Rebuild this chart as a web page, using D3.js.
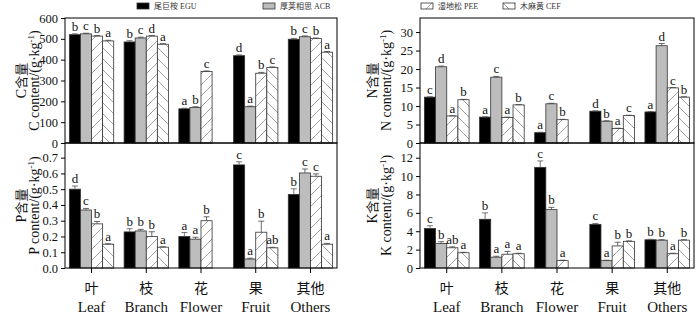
<!DOCTYPE html>
<html>
<head>
<meta charset="utf-8">
<script src="https://cdn.jsdelivr.net/npm/d3@7"></script>
<style>
  body { margin: 0; background: #fff; }
  svg { display: block; }
  text { font-family: "Liberation Serif", "Times New Roman", "DejaVu Serif", serif; fill: #111; }
  .zh { font-family: "Noto Sans CJK SC", sans-serif; }
</style>
</head>
<body>
<div class="chart"></div>
<script>
const categories = ['Leaf', 'Branch', 'Flower', 'Fruit', 'Others']
const categoriesZh = ['叶', '枝', '花', '果', '其他']
const species = ['EGU', 'ACB', 'PEE', 'CEF']
const speciesZh = ['尾巨桉', '厚荚相思', '湿地松', '木麻黄']

// C content, g/kg  (flower has no CEF)
const cEGU = [520, 485, 164, 419, 498]
const cACB = [524, 504, 171, 174, 510]
const cPEE = [513, 513, 343, 335, 501]
const cCEF = [490, 474, null, 362, 436]
const cErr = [[4, 6, 3, 4, 4], [3, 4, 3, 3, 4], [3, 3, 3, 4, 3], [3, 3, null, 3, 3]]
const cSig = [['b', 'b', 'a', 'd', 'b'], ['c', 'c', 'b', 'a', 'c'], ['b', 'd', 'c', 'b', 'b'], ['a', 'a', '', 'c', 'a']]

// N content
const nEGU = [12.4, 7.0, 2.8, 8.6, 8.4]
const nACB = [20.6, 17.8, 10.6, 5.9, 26.3]
const nPEE = [7.3, 6.9, 6.3, 3.9, 14.9]
const nCEF = [11.7, 10.3, null, 7.4, 12.4]
const nErr = [[0.1, 0.1, 0.1, 0.1, 0.1], [0.2, 0.2, 0.15, 0.1, 0.6], [0.1, 0.1, 0.1, 0.1, 0.1], [0.1, 0.1, null, 0.1, 0.1]]
const nSig = [['c', 'a', 'a', 'd', 'a'], ['d', 'c', 'c', 'b', 'd'], ['a', 'a', 'b', 'a', 'c'], ['b', 'b', '', 'c', 'b']]

// P content
const pEGU = [0.50, 0.229, 0.20, 0.654, 0.467]
const pACB = [0.368, 0.235, 0.183, 0.057, 0.603]
const pPEE = [0.28, 0.20, 0.30, 0.227, 0.582]
const pCEF = [0.151, 0.132, null, 0.128, 0.151]
const pErr = [[0.02, 0.02, 0.025, 0.02, 0.035], [0.01, 0.01, 0.012, 0.005, 0.025], [0.015, 0.03, 0.025, 0.07, 0.015], [0.003, 0.003, null, 0.003, 0.005]]
const pSig = [['d', 'b', 'a', 'c', 'b'], ['c', 'b', 'a', 'a', 'c'], ['b', 'b', 'b', 'b', 'c'], ['a', 'a', '', 'ab', 'a']]

// K content
const kEGU = [4.3, 5.3, 10.95, 4.75, 3.07]
const kACB = [2.66, 1.18, 6.35, 0.8, 3.03]
const kPEE = [2.2, 1.5, 0.8, 2.4, 1.55]
const kCEF = [1.66, 1.55, null, 2.9, 3.03]
const kErr = [[0.3, 0.7, 0.7, 0.1, 0.05], [0.2, 0.1, 0.25, 0.05, 0.05], [0.1, 0.3, 0.05, 0.4, 0.05], [0.05, 0.05, null, 0.05, 0.05]]
const kSig = [['c', 'b', 'c', 'c', 'b'], ['b', 'a', 'b', 'a', 'b'], ['ab', 'a', 'a', 'b', 'a'], ['a', 'a', '', 'b', 'b']]

const width = 700, height = 318
const serif = '"Liberation Serif", "Times New Roman", serif'

const svg = d3.select('.chart').append('svg')
  .attr('width', width)
  .attr('height', height)

// hatch patterns
const defs = svg.append('defs')
const hatch = (id, dir) => {
  const p = defs.append('pattern')
    .attr('id', id)
    .attr('patternUnits', 'userSpaceOnUse')
    .attr('width', 11).attr('height', 11)
  p.append('rect').attr('width', 11).attr('height', 11).attr('fill', '#fff')
  const d = dir > 0 ? 'M-1,12 L12,-1 M-6,6 L6,-6 M5,17 L17,5' : 'M-1,-1 L12,12 M-6,5 L6,17 M5,-6 L17,6'
  p.append('path').attr('d', d).attr('stroke', '#8a8a8a').attr('stroke-width', 0.8)
}
hatch('hatchPEE', 1)
hatch('hatchCEF', -1)

const fills = ['#000', '#bdbdbd', 'url(#hatchPEE)', 'url(#hatchCEF)']

const panels = [
  { x0: 65, x1: 337, y0: 18, y1: 143, max: 600, ticks: d3.range(0, 601, 100), fmt: d3.format('d'),
    el: 'C', series: [cEGU, cACB, cPEE, cCEF], err: cErr, sig: cSig, labX: [21, 34] },
  { x0: 420, x1: 694, y0: 18, y1: 143, max: 33.8, ticks: d3.range(0, 31, 5), fmt: d3.format('d'),
    el: 'N', series: [nEGU, nACB, nPEE, nCEF], err: nErr, sig: nSig, labX: [372, 386] },
  { x0: 65, x1: 337, y0: 143, y1: 268, max: 0.793, ticks: d3.range(0, 0.71, 0.1), fmt: d3.format('.1f'),
    el: 'P', series: [pEGU, pACB, pPEE, pCEF], err: pErr, sig: pSig, labX: [21, 34], bottom: true },
  { x0: 420, x1: 694, y0: 143, y1: 268, max: 13.6, ticks: d3.range(0, 13, 2), fmt: d3.format('d'),
    el: 'K', series: [kEGU, kACB, kPEE, kCEF], err: kErr, sig: kSig, labX: [372, 386], bottom: true }
]

panels.forEach(pn => {
  const g = svg.append('g')

  const x = d3.scaleBand()
    .domain(categories)
    .range([pn.x0, pn.x1])
    .paddingInner(0.19)
    .paddingOuter(0.08)

  const xs = d3.scaleBand()
    .domain(species)
    .range([0, x.bandwidth()])

  const y = d3.scaleLinear()
    .domain([0, pn.max])
    .range([pn.y1, pn.y0])

  // bars
  pn.series.forEach((vals, si) => {
    vals.forEach((v, ci) => {
      if (v == null) return
      const bx = x(categories[ci]) + xs(species[si])
      const e = pn.err[si][ci] || 0

      g.append('rect')
        .attr('x', bx)
        .attr('y', y(v))
        .attr('width', xs.bandwidth())
        .attr('height', y(0) - y(v))
        .attr('fill', fills[si])
        .attr('stroke', '#333')
        .attr('stroke-width', 0.8)

      // error bar
      const cx = bx + xs.bandwidth() / 2
      g.append('path')
        .attr('d', `M${cx},${y(v)} V${y(v + e)} M${cx - 3},${y(v + e)} H${cx + 3}`)
        .attr('stroke', si === 0 ? '#555' : '#444')
        .attr('stroke-width', 0.8)
        .attr('fill', 'none')

      g.append('text')
        .attr('x', cx)
        .attr('y', y(v + e) - 3)
        .attr('text-anchor', 'middle')
        .attr('font-size', 13)
        .attr('font-family', serif)
        .text(pn.sig[si][ci])
    })
  })

  // frame
  g.append('rect')
    .attr('x', pn.x0).attr('y', pn.y0)
    .attr('width', pn.x1 - pn.x0).attr('height', pn.y1 - pn.y0)
    .attr('fill', 'none').attr('stroke', '#000').attr('stroke-width', 1)

  // y axis
  const yAxis = g.append('g')
    .attr('transform', `translate(${pn.x0},0)`)
    .call(d3.axisLeft(y).tickValues(pn.ticks).tickFormat(pn.fmt).tickSize(4).tickPadding(3))
  yAxis.attr('font-family', serif)
  yAxis.select('.domain').remove()
  yAxis.selectAll('text').attr('font-size', 12.5).attr('fill', '#111')

  // x axis ticks and labels on the lower panels
  if (pn.bottom) {
    const xAxis = g.append('g')
      .attr('transform', `translate(0,${pn.y1})`)
      .call(d3.axisBottom(x).tickSize(5).tickFormat(''))
    xAxis.select('.domain').remove()

    categories.forEach((c, i) => {
      const cx = x(c) + x.bandwidth() / 2
      g.append('text')
        .attr('class', 'zh')
        .attr('x', cx).attr('y', 293)
        .attr('text-anchor', 'middle')
        .attr('font-size', 14)
        .text(categoriesZh[i])
      g.append('text')
        .attr('x', cx).attr('y', 312)
        .attr('text-anchor', 'middle')
        .attr('font-size', 15)
        .attr('font-family', serif)
        .text(c)
    })
  }

  // y axis titles
  const cy = (pn.y0 + pn.y1) / 2
  const t1 = g.append('text')
    .attr('transform', `translate(${pn.labX[0]},${cy}) rotate(-90)`)
    .attr('text-anchor', 'middle')
    .attr('dy', '0.35em')
    .attr('font-size', 14)
    .attr('font-family', serif)
  t1.append('tspan').text(pn.el)
  t1.append('tspan').attr('class', 'zh').attr('font-size', 13).text('含量')

  const t2 = g.append('text')
    .attr('transform', `translate(${pn.labX[1]},${cy}) rotate(-90)`)
    .attr('text-anchor', 'middle')
    .attr('dy', '0.35em')
    .attr('font-size', 14)
    .attr('font-family', serif)
  t2.append('tspan').text(`${pn.el} content/(g·kg`)
  t2.append('tspan').attr('font-size', 9).attr('dy', -5).text('-1')
  t2.append('tspan').attr('dy', 5).text(')')
})

// legend
const legX = [137, 263, 421, 503]
species.forEach((s, i) => {
  const lg = svg.append('g').attr('transform', `translate(${legX[i]},3)`)
  lg.append('rect')
    .attr('width', 12).attr('height', 6)
    .attr('fill', fills[i])
    .attr('stroke', '#333').attr('stroke-width', 0.8)
  const tx = lg.append('text')
    .attr('x', 17).attr('y', 6)
    .attr('font-size', 8)
    .attr('font-family', serif)
    .style('fill', '#333')
  tx.append('tspan').attr('class', 'zh').text(speciesZh[i])
  tx.append('tspan').text(' ' + s)
})
</script>
</body>
</html>
